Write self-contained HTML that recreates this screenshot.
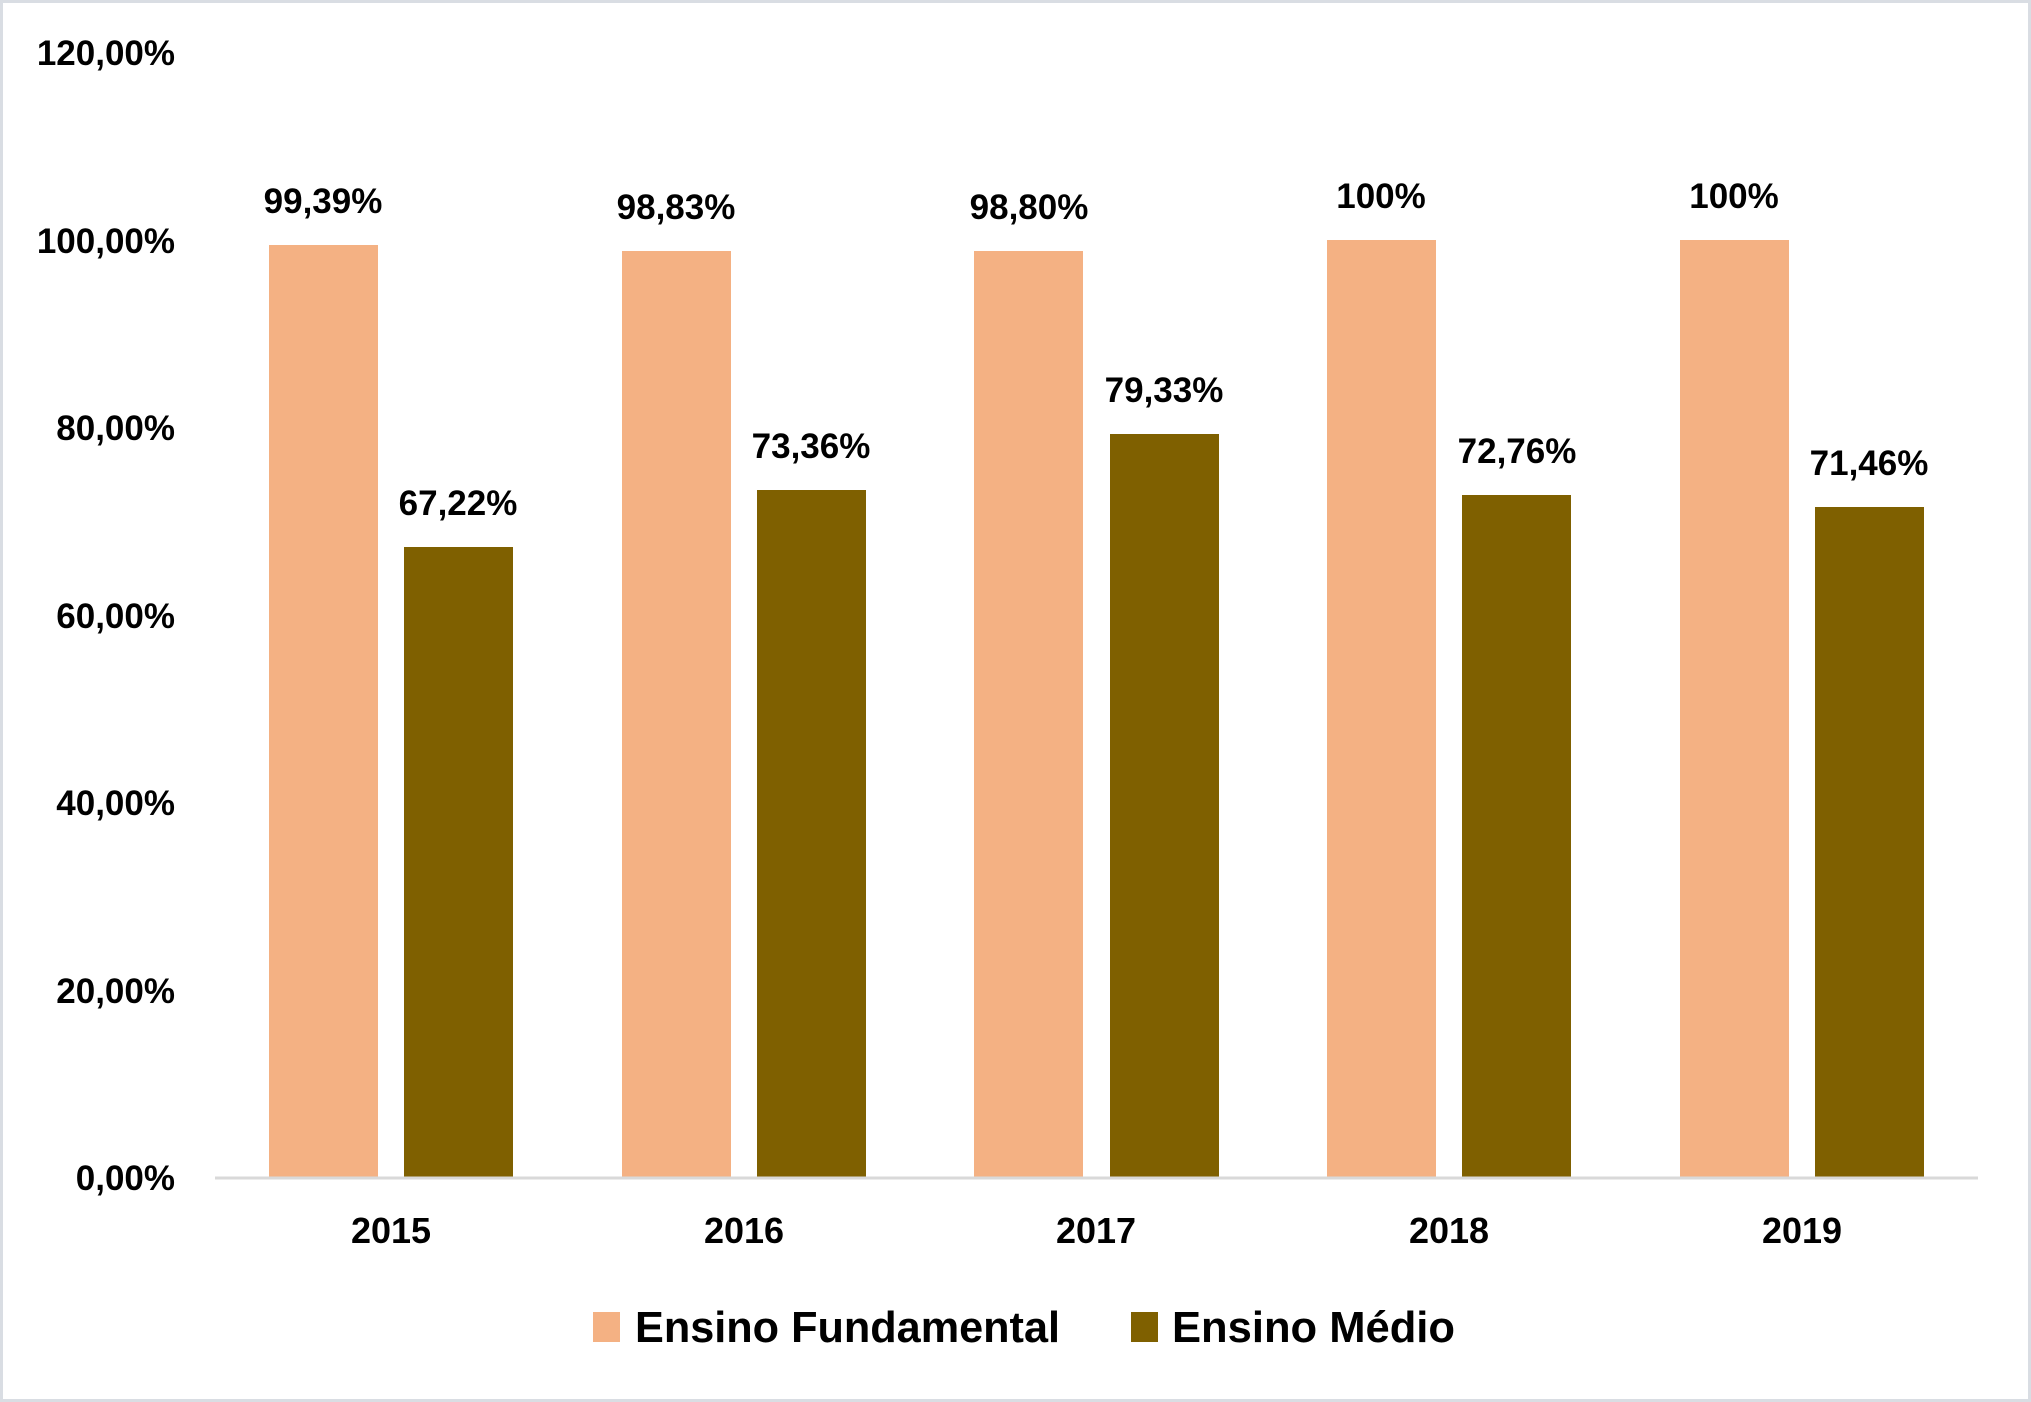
<!DOCTYPE html>
<html><head><meta charset="utf-8"><style>
html,body{margin:0;padding:0;background:#fff}
svg{display:block}
text{font-family:"Liberation Sans",Arial,sans-serif;font-weight:bold;fill:#000}
</style></head><body>
<svg width="2031" height="1402" viewBox="0 0 2031 1402" xmlns="http://www.w3.org/2000/svg">
<rect x="1.5" y="1.5" width="2028" height="1399" fill="#fff" stroke="#d9dde3" stroke-width="3"/>
<g font-size="35" text-anchor="end">
<text x="175" y="1190">0,00%</text>
<text x="175" y="1003">20,00%</text>
<text x="175" y="815">40,00%</text>
<text x="175" y="628">60,00%</text>
<text x="175" y="440">80,00%</text>
<text x="175" y="253">100,00%</text>
<text x="175" y="65">120,00%</text>
</g>
<g fill="#f4b183">
<rect x="269" y="245" width="109" height="932"/>
<rect x="622" y="251" width="109" height="926"/>
<rect x="974" y="251" width="109" height="926"/>
<rect x="1327" y="240" width="109" height="937"/>
<rect x="1680" y="240" width="109" height="937"/>
</g>
<g fill="#7f6000">
<rect x="404" y="547" width="109" height="630"/>
<rect x="757" y="490" width="109" height="687"/>
<rect x="1110" y="434" width="109" height="743"/>
<rect x="1462" y="495" width="109" height="682"/>
<rect x="1815" y="507" width="109" height="670"/>
</g>
<line x1="215" y1="1178" x2="1978" y2="1178" stroke="#d9d9d9" stroke-width="3"/>
<g font-size="35" text-anchor="middle">
<text x="323" y="213">99,39%</text>
<text x="458" y="515">67,22%</text>
<text x="676" y="219">98,83%</text>
<text x="811" y="458">73,36%</text>
<text x="1029" y="219">98,80%</text>
<text x="1164" y="402">79,33%</text>
<text x="1381" y="208">100%</text>
<text x="1517" y="463">72,76%</text>
<text x="1734" y="208">100%</text>
<text x="1869" y="475">71,46%</text>
</g>
<g font-size="36" text-anchor="middle">
<text x="391" y="1243">2015</text>
<text x="744" y="1243">2016</text>
<text x="1096" y="1243">2017</text>
<text x="1449" y="1243">2018</text>
<text x="1802" y="1243">2019</text>
</g>
<rect x="593" y="1312" width="27" height="30" fill="#f4b183"/>
<text x="635" y="1342" font-size="44" textLength="425" lengthAdjust="spacingAndGlyphs">Ensino Fundamental</text>
<rect x="1131" y="1312" width="27" height="30" fill="#7f6000"/>
<text x="1172" y="1342" font-size="44" textLength="283" lengthAdjust="spacingAndGlyphs">Ensino Médio</text>
</svg>
</body></html>
